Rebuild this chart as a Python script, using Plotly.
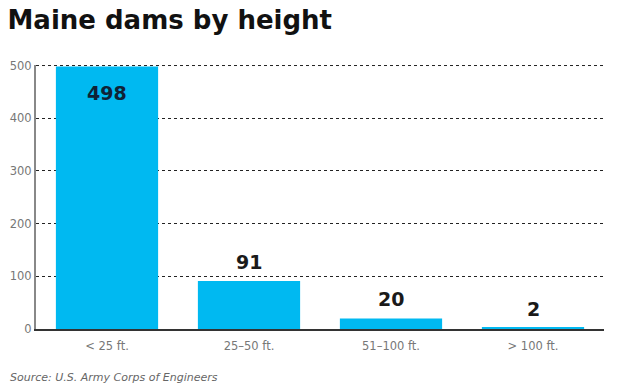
import plotly.graph_objects as go

categories = ["< 25 ft.", "25–50 ft.", "51–100 ft.", "> 100 ft."]
values = [498, 91, 20, 2]
label_inside = [True, False, False, False]
tick_vals = [0, 100, 200, 300, 400, 500]

fig = go.Figure()
fig.add_trace(go.Bar(
    x=categories, y=values,
    marker=dict(color="#00b9f1", line=dict(width=0)),
    width=0.72,
))

for cat, v, inside in zip(categories, values, label_inside):
    fig.add_annotation(
        x=cat, y=v, text=f"<b>{v}</b>", showarrow=False,
        yshift=-26 if inside else 19, yanchor="middle",
        font=dict(family="DejaVu Sans", size=19,
                  color="#0f2236" if inside else "#1a1a1a"),
    )

# top gridline (plotly skips gridlines on the plot edge)
fig.add_hline(y=tick_vals[-1], line=dict(color="#222", width=1, dash="dot"),
              layer="below")

fig.update_layout(
    width=624, height=390,
    margin=dict(l=36, r=20, t=65, b=61),
    paper_bgcolor="white", plot_bgcolor="white",
    font=dict(family="DejaVu Sans", color="#777"),
    showlegend=False,
    title=dict(text="<b>Maine dams by height</b>", x=0.012, xanchor="left",
               y=0.95, yanchor="middle",
               font=dict(family="DejaVu Sans", size=26, color="#111")),
)
fig.update_xaxes(showgrid=False, tickfont=dict(size=11.5, color="#777"),
                 showline=True, linecolor="#333", linewidth=1.5, ticks="",
                 ticklabelstandoff=5, automargin=False)
fig.update_yaxes(range=[0, 501], tickvals=tick_vals, showgrid=True,
                 gridcolor="#222", griddash="dot", gridwidth=1,
                 zeroline=False, showline=True, linecolor="#888", linewidth=2,
                 tickfont=dict(size=11.5, color="#777"), ticks="",
                 automargin=False)
fig.add_annotation(text="<i>Source: U.S. Army Corps of Engineers</i>",
                   xref="paper", yref="paper", x=-0.049, y=-0.152,
                   xanchor="left", yanchor="top", showarrow=False,
                   font=dict(size=11, color="#666"))
fig.write_html("out.html", config={"displayModeBar": False},
               post_script="document.body.style.margin='0';document.body.style.overflow='hidden';")
